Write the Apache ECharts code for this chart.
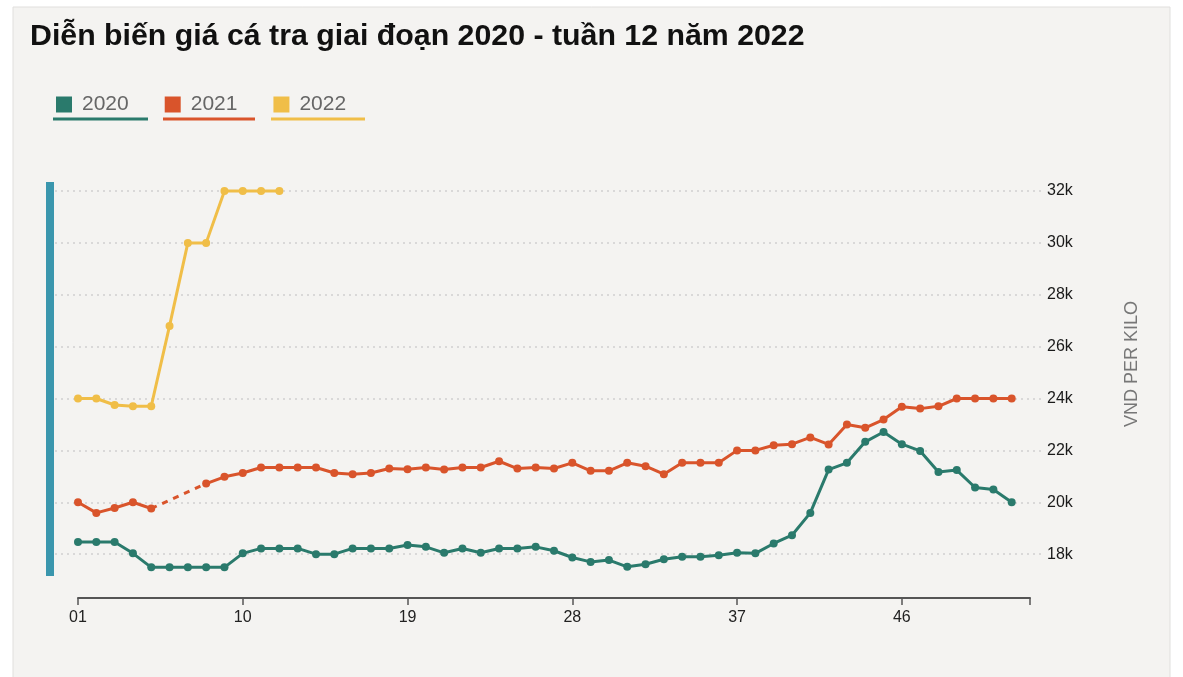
<!DOCTYPE html>
<html>
<head>
<meta charset="utf-8">
<script src="https://cdn.jsdelivr.net/npm/echarts@6/dist/echarts.min.js"></script>
<style>
html,body{margin:0;padding:0;background:#fff;}
#chart{width:1183px;height:677px;}
</style>
</head>
<body>
<div id="chart"></div>
<script>
// ---- data (values in VND per kilo, index = week number - 1) ----
const seriesNames = ['2020', '2021', '2022'];
const prices2020 = [18470, 18470, 18470, 18030, 17490, 17490, 17490, 17490, 17490, 18030,
  18220, 18220, 18220, 18000, 18000, 18220, 18220, 18220, 18350, 18280,
  18050, 18220, 18050, 18220, 18220, 18280, 18130, 17870, 17700, 17770,
  17510, 17610, 17800, 17900, 17900, 17960, 18050, 18030, 18410, 18730,
  19590, 21260, 21520, 22330, 22710, 22240, 21980, 21170, 21240, 20570,
  20490, 20000];
const prices2021 = [20000, 19590, 19780, 20000, 19760, null, null, 20720, 20980, 21130,
  21340, 21340, 21340, 21340, 21130, 21080, 21130, 21300, 21270, 21340,
  21260, 21340, 21340, 21580, 21300, 21340, 21300, 21520, 21210, 21210,
  21520, 21390, 21080, 21520, 21520, 21520, 22000, 22000, 22200, 22240,
  22500, 22230, 23000, 22870, 23190, 23680, 23610, 23700, 24000, 24000,
  24000, 24000];
const prices2022 = [24000, 24000, 23750, 23700, 23700, 26800, 30000, 30000, 32000, 32000,
  32000, 32000];
const xTickWeeks = [1, 10, 19, 28, 37, 46];
const yTickValues = [18000, 20000, 22000, 24000, 26000, 28000, 30000, 32000];

const colors = {'2020': '#2a7a6c', '2021': '#d9542b', '2022': '#f0be48'};

function toPoints(arr) { return arr.map((v, i) => [i + 1, v]); }
function gapBridges(arr) {
  // dashed connectors across missing weeks
  const out = [];
  for (let i = 1; i < arr.length; i++) {
    if (arr[i] == null && arr[i - 1] != null) {
      let j = i;
      while (j < arr.length && arr[j] == null) j++;
      if (j < arr.length) { out.push([i, arr[i - 1]], [j + 1, arr[j]], [null, null]); }
    }
  }
  return out;
}

const chart = echarts.init(document.getElementById('chart'), null, {renderer: 'canvas'});

const dataSeries = [
  {name: '2020', arr: prices2020},
  {name: '2021', arr: prices2021},
  {name: '2022', arr: prices2022}
].map(s => ({
  name: s.name, type: 'line', xAxisIndex: 1, yAxisIndex: 1,
  data: toPoints(s.arr),
  symbol: 'circle', symbolSize: 8, clip: false,
  lineStyle: {width: 3, color: colors[s.name]},
  itemStyle: {color: colors[s.name]},
  emphasis: {disabled: true},
  z: 3
}));

const bridge = {
  name: '2021', type: 'line', xAxisIndex: 1, yAxisIndex: 1,
  data: gapBridges(prices2021),
  symbol: 'none', clip: false,
  lineStyle: {width: 3, color: colors['2021'], type: [6, 6]},
  emphasis: {disabled: true},
  z: 2
};

const option = {
  backgroundColor: '#ffffff',
  animation: false,
  color: seriesNames.map(n => colors[n]),
  title: {
    text: 'Diễn biến giá cá tra giai đoạn 2020 - tuần 12 năm 2022',
    left: 25, top: 17,
    textStyle: {fontFamily: 'Liberation Sans, Arial, sans-serif', fontSize: 30.3, fontWeight: 'bold', color: '#111'}
  },
  legend: {
    data: seriesNames,
    left: 51, top: 89,
    icon: 'rect', itemWidth: 16, itemHeight: 16, itemGap: 36,
    textStyle: {fontFamily: 'Liberation Sans, Arial, sans-serif', fontSize: 21, color: '#666', padding: [0, 0, 0, 5]},
    selectedMode: false
  },
  grid: [
    {left: 55, right: 138, top: 191, bottom: 71},
    {left: 78, right: 153, top: 191, bottom: 71}
  ],
  xAxis: [
    {gridIndex: 0, type: 'value', show: false, min: 0, max: 1},
    {
      gridIndex: 1, type: 'value', min: 1, max: 53, interval: 9, offset: -8,
      axisLine: {show: true, lineStyle: {color: '#555', width: 2}},
      axisTick: {show: true, length: 7, lineStyle: {color: '#555', width: 1.5}},
      splitLine: {show: false},
      axisLabel: {
        margin: 12,
        fontFamily: 'Liberation Sans Narrow, Liberation Sans, Arial, sans-serif',
        fontSize: 16, color: '#222',
        formatter: v => xTickWeeks.includes(v) ? String(v).padStart(2, '0') : ''
      }
    }
  ],
  yAxis: [
    {
      gridIndex: 0, type: 'value', position: 'right', min: 16000, max: 32000, interval: 2000,
      axisLine: {show: false}, axisTick: {show: false},
      splitLine: {show: true, showMinLine: false, lineStyle: {color: '#cfcfcf', width: 1.5, type: [2, 4]}},
      axisLabel: {
        margin: 2, fontFamily: 'Liberation Sans, Arial, sans-serif', fontSize: 16, color: '#1a1a1a',
        formatter: v => yTickValues.includes(v) ? (v / 1000) + 'k' : ''
      }
    },
    {gridIndex: 1, type: 'value', show: false, min: 16000, max: 32000}
  ],
  graphic: [
    {type: 'rect', shape: {x: 13, y: 7, width: 1157, height: 680},
      style: {fill: '#f4f3f1', stroke: '#e0dfdd', lineWidth: 1}, z: -10, silent: true},
    {type: 'rect', shape: {x: 46, y: 182, width: 8, height: 394},
      style: {fill: '#3a96ad'}, z: 1, silent: true},
    {type: 'line', shape: {x1: 53, y1: 119, x2: 148, y2: 119}, style: {stroke: colors['2020'], lineWidth: 3}, silent: true},
    {type: 'line', shape: {x1: 163, y1: 119, x2: 255, y2: 119}, style: {stroke: colors['2021'], lineWidth: 3}, silent: true},
    {type: 'line', shape: {x1: 271, y1: 119, x2: 365, y2: 119}, style: {stroke: colors['2022'], lineWidth: 3}, silent: true},
    {type: 'text', x: 1132, y: 364, rotation: Math.PI / 2, silent: true,
      style: {text: 'VND PER KILO', align: 'center', verticalAlign: 'middle',
        fontFamily: 'Liberation Sans, Arial, sans-serif', fontSize: 18, fill: '#777'}}
  ],
  series: dataSeries.concat([bridge])
};

chart.setOption(option);
</script>
</body>
</html>
